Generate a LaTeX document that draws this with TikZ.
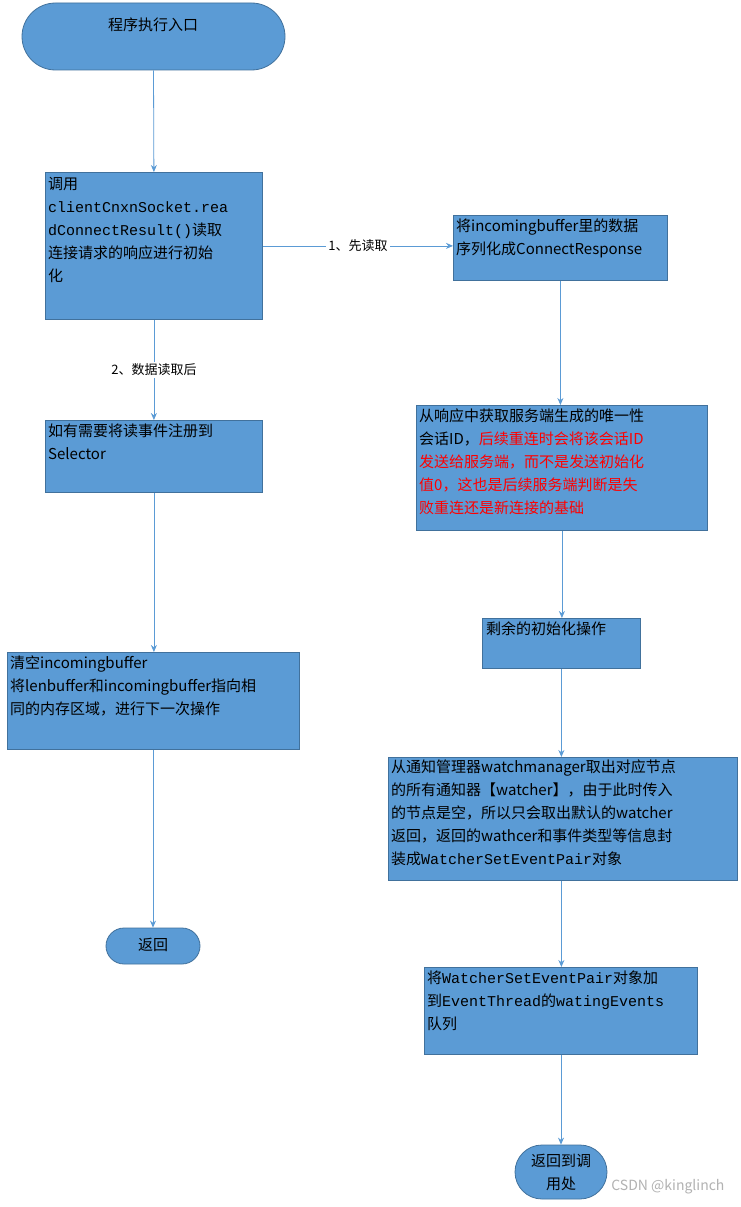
\documentclass[tikz,border=0pt]{standalone}
\usepackage{fontspec}
\setmainfont{Noto Sans CJK SC}
\newfontfamily\monof{Liberation Mono}
\usetikzlibrary{arrows.meta,shapes.misc}
\definecolor{boxfill}{HTML}{5B9BD5}
\definecolor{boxline}{HTML}{41719C}
\definecolor{arr}{HTML}{5B9BD5}
\tikzset{
 bx/.style={draw=boxline,fill=boxfill,line width=0.8pt,rectangle,anchor=north west,inner sep=0pt},
 txt/.style={anchor=north west,align=left,font=\fontsize{15}{23}\selectfont,inner sep=0pt},
 pill/.style={draw=boxline,fill=boxfill,line width=0.8pt,rounded rectangle,inner sep=0pt},
 ar/.style={draw=arr,line width=0.8pt,-{Stealth[length=7pt,width=6pt]}},
 lbl/.style={fill=white,font=\fontsize{13}{15}\selectfont,inner sep=2pt}
}
\begin{document}
\begin{tikzpicture}[x=1pt,y=-1pt]
\useasboundingbox[fill=white] (0,0) rectangle (741,1207);
% start
\node[pill,minimum width=263pt,minimum height=67pt] (s) at (153.5,36.5) {};
\node[font=\fontsize{15}{18}\selectfont] at (153,25) {程序执行入口};
% box1
\node[bx,minimum width=217pt,minimum height=147pt] (b1) at (45,172) {};
\node[txt] at (48,177) {调用\\{\monof clientCnxnSocket.rea}\\{\monof dConnectResult()}读取\\连接请求的响应进行初始\\化};
% R1
\node[bx,minimum width=214pt,minimum height=65pt] (r1) at (453,215) {};
\node[txt] at (456,219) {将incomingbuffer里的数据\\序列化成ConnectResponse};
% box2
\node[bx,minimum width=217pt,minimum height=72pt] (b2) at (45,420) {};
\node[txt] at (48,424) {如有需要将读事件注册到\\Selector};
% R2
\node[bx,minimum width=291pt,minimum height=125pt] (r2) at (416,405) {};
\node[txt] at (419,409) {从响应中获取服务端生成的唯一性\\会话ID，\textcolor{red}{后续重连时会将该会话ID}\\\textcolor{red}{发送给服务端，而不是发送初始化}\\\textcolor{red}{值0，这也是后续服务端判断是失}\\\textcolor{red}{败重连还是新连接的基础}};
% box3
\node[bx,minimum width=292pt,minimum height=97pt] (b3) at (7,652) {};
\node[txt] at (10,656) {清空incomingbuffer\\将lenbuffer和incomingbuffer指向相\\同的内存区域，进行下一次操作};
% R3
\node[bx,minimum width=158pt,minimum height=50pt] (r3) at (482,618) {};
\node[txt] at (486,622) {剩余的初始化操作};
% return
\node[pill,minimum width=94pt,minimum height=36pt] (ret) at (153,946) {};
\node[font=\fontsize{15}{18}\selectfont] at (153,945) {返回};
% R4
\node[bx,minimum width=349pt,minimum height=123pt] (r4) at (388,757) {};
\node[txt] at (391,760) {从通知管理器watchmanager取出对应节点\\的所有通知器【watcher】，由于此时传入\\的节点是空，所以只会取出默认的watcher\\返回，返回的wathcer和事件类型等信息封\\装成{\monof WatcherSetEventPair}对象};
% R5
\node[bx,minimum width=273pt,minimum height=87pt] (r5) at (424,967) {};
\node[txt] at (427,971) {将{\monof WatcherSetEventPair}对象加\\到{\monof EventThread}的{\monof watingEvents}\\队列};
% R6
\node[pill,minimum width=92pt,minimum height=54pt] (r6) at (561,1172) {};
\node[align=center,font=\fontsize{15}{23}\selectfont] at (561,1172) {返回到调\\用处};
\node[anchor=east,text=gray!60,font=\fontsize{14}{16}\selectfont] at (728,1187) {CSDN @kinglinch};
% arrows
\draw[ar] (s.south) -- (b1.north);
\draw[ar] (b1.east) -- node[lbl,pos=0.5]{1、先读取} (r1.west|-b1.east);
\draw[ar] (b1.south) -- node[lbl,pos=0.5]{2、数据读取后} (b2.north);
\draw[ar] (b2.south) -- (b2.south|-b3.north);
\draw[ar] (b3.south-|ret) -- (ret.north);
\draw[ar] (r1.south) -- (r1.south|-r2.north);
\draw[ar] (r2.south) -- (r2.south|-r3.north);
\draw[ar] (r3.south) -- (r3.south|-r4.north);
\draw[ar] (r4.south-|r3.south) -- (r3.south|-r5.north);
\draw[ar] (r5.south-|r6) -- (r6.north);
\end{tikzpicture}
\end{document}
